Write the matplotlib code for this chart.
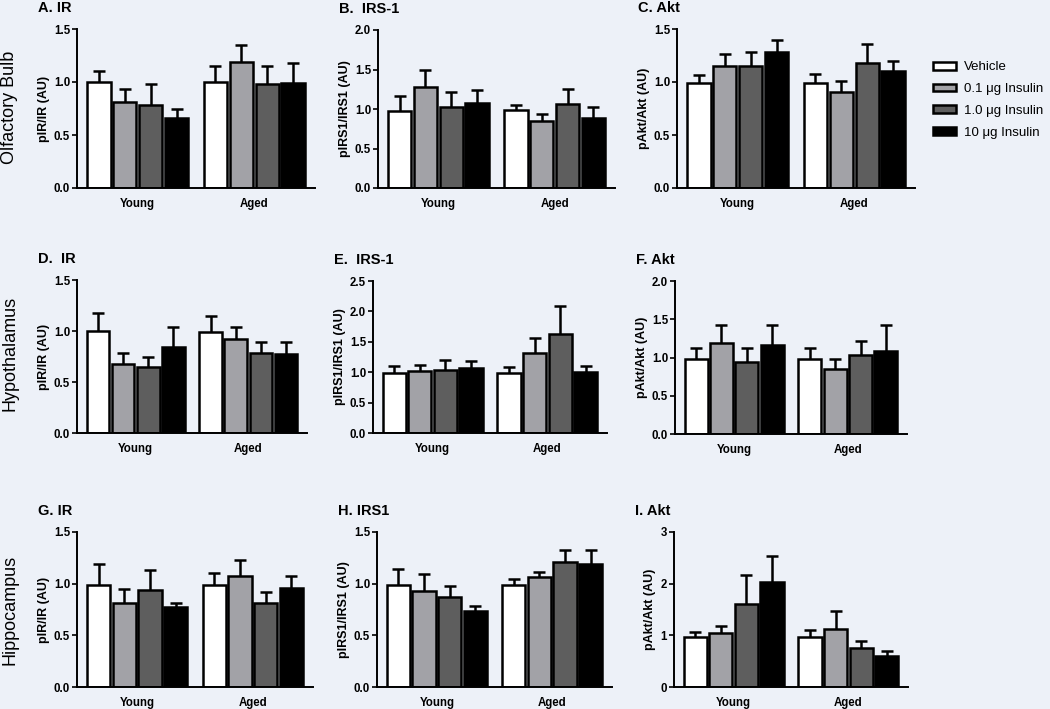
import matplotlib.pyplot as plt
from matplotlib.patches import Patch

plt.rcParams['font.family'] = ['Liberation Sans', 'DejaVu Sans']

groups = ['Young', 'Aged']
treatments = ['Vehicle', '0.1 \u03bcg Insulin', '1.0 \u03bcg Insulin', '10 \u03bcg Insulin']
colors = ['#FFFFFF', '#A2A2A7', '#5E5E5E', '#000000']
regions = ['Olfactory Bulb', 'Hypothalamus', 'Hippocampus']

# means and SEM, [young x4, aged x4]
ob_ir_mean = [[1.00, 0.81, 0.78, 0.66], [1.00, 1.19, 0.98, 0.99]]
ob_ir_sem = [[0.10, 0.12, 0.20, 0.09], [0.15, 0.16, 0.17, 0.19]]
ob_irs_mean = [[0.98, 1.28, 1.03, 1.07], [0.99, 0.85, 1.06, 0.88]]
ob_irs_sem = [[0.18, 0.21, 0.18, 0.17], [0.06, 0.09, 0.19, 0.14]]
ob_akt_mean = [[0.99, 1.15, 1.15, 1.28], [0.99, 0.91, 1.18, 1.10]]
ob_akt_sem = [[0.08, 0.11, 0.13, 0.12], [0.09, 0.10, 0.18, 0.10]]

hy_ir_mean = [[1.00, 0.68, 0.65, 0.84], [0.99, 0.92, 0.78, 0.77]]
hy_ir_sem = [[0.18, 0.10, 0.10, 0.20], [0.16, 0.12, 0.11, 0.12]]
hy_irs_mean = [[0.98, 1.02, 1.03, 1.07], [0.98, 1.31, 1.63, 1.00]]
hy_irs_sem = [[0.13, 0.10, 0.17, 0.11], [0.11, 0.26, 0.46, 0.11]]
hy_akt_mean = [[0.98, 1.19, 0.94, 1.16], [0.98, 0.85, 1.03, 1.09]]
hy_akt_sem = [[0.15, 0.23, 0.18, 0.27], [0.15, 0.13, 0.19, 0.33]]

hc_ir_mean = [[0.99, 0.81, 0.94, 0.77], [0.99, 1.07, 0.81, 0.96]]
hc_ir_sem = [[0.20, 0.14, 0.19, 0.04], [0.11, 0.16, 0.11, 0.11]]
hc_irs_mean = [[0.99, 0.93, 0.87, 0.74], [0.99, 1.06, 1.21, 1.19]]
hc_irs_sem = [[0.15, 0.16, 0.11, 0.04], [0.06, 0.05, 0.12, 0.14]]
hc_akt_mean = [[0.97, 1.04, 1.60, 2.03], [0.97, 1.13, 0.76, 0.60]]
hc_akt_sem = [[0.09, 0.14, 0.56, 0.51], [0.14, 0.35, 0.14, 0.09]]

panels = [
    ('A. IR', 'pIR/IR (AU)', ob_ir_mean, ob_ir_sem, 1.5, [0, 0.5, 1.0, 1.5]),
    ('B.  IRS-1', 'pIRS1/IRS1 (AU)', ob_irs_mean, ob_irs_sem, 2.0, [0, 0.5, 1.0, 1.5, 2.0]),
    ('C. Akt', 'pAkt/Akt (AU)', ob_akt_mean, ob_akt_sem, 1.5, [0, 0.5, 1.0, 1.5]),
    ('D.  IR', 'pIR/IR (AU)', hy_ir_mean, hy_ir_sem, 1.5, [0, 0.5, 1.0, 1.5]),
    ('E.  IRS-1', 'pIRS1/IRS1 (AU)', hy_irs_mean, hy_irs_sem, 2.5, [0, 0.5, 1.0, 1.5, 2.0, 2.5]),
    ('F. Akt', 'pAkt/Akt (AU)', hy_akt_mean, hy_akt_sem, 2.0, [0, 0.5, 1.0, 1.5, 2.0]),
    ('G. IR', 'pIR/IR (AU)', hc_ir_mean, hc_ir_sem, 1.5, [0, 0.5, 1.0, 1.5]),
    ('H. IRS1', 'pIRS1/IRS1 (AU)', hc_irs_mean, hc_irs_sem, 1.5, [0, 0.5, 1.0, 1.5]),
    ('I. Akt', 'pAkt/Akt (AU)', hc_akt_mean, hc_akt_sem, 3, [0, 1, 2, 3]),
]

# axes boxes in pixels: left, top, right, bottom
boxes = [
    (77, 29, 315, 188), (378, 30, 615, 188), (677, 29, 915, 188),
    (77, 280, 307, 433), (373, 281, 607, 433), (675, 281, 907, 434),
    (77, 532, 313, 687), (377, 532, 612, 687), (674, 532, 908, 687),
]
W, H = 1050, 709
bg = '#EDF1F8'

fig = plt.figure(figsize=(W / 100, H / 100), dpi=100, facecolor=bg)

slot = 0.2225
offsets = [(i - 1.5) * slot for i in range(4)]

for (title, ylab, mean, sem, ymax, ticks), (l, t, r, b) in zip(panels, boxes):
    ax = fig.add_axes([l / W, 1 - b / H, (r - l) / W, (b - t) / H])
    ax.set_facecolor(bg)
    for k in range(4):
        xs = [g + offsets[k] for g in range(2)]
        ys = [mean[g][k] for g in range(2)]
        es = [sem[g][k] for g in range(2)]
        ax.errorbar(xs, ys, yerr=es, fmt='none', ecolor='black', elinewidth=1.8,
                    capsize=4.5, capthick=1.8, zorder=1)
        ax.bar(xs, ys, width=slot * 0.91, color=colors[k], edgecolor='black',
               linewidth=1.8, zorder=2)
    ax.set_xlim(-0.52, 1.52)
    ax.set_ylim(0, ymax)
    ax.set_yticks(ticks)
    if ymax == 3:
        ax.set_yticklabels([str(v) for v in ticks])
    else:
        ax.set_yticklabels(['%.1f' % v for v in ticks])
    ax.set_xticks([0, 1])
    ax.set_xticklabels(groups)
    ax.tick_params(axis='x', length=0, pad=7)
    ax.tick_params(axis='y', length=3.5, width=1.2, pad=1.5)
    for lab in ax.get_xticklabels() + ax.get_yticklabels():
        lab.set_fontsize(8.3)
        lab.set_fontweight('bold')
    ax.spines['top'].set_visible(False)
    ax.spines['right'].set_visible(False)
    ax.spines['left'].set_linewidth(1.4)
    ax.spines['bottom'].set_linewidth(1.4)
    ax.set_ylabel(ylab, fontsize=9, fontweight='bold', labelpad=3)
    fig.text((l - 39) / W, 1 - (t - 21) / H, title, fontsize=10.5, fontweight='bold',
             ha='left', va='center')

for name, yc in zip(regions, [107, 353, 610]):
    fig.text(10 / W, 1 - yc / H, name, fontsize=13, rotation=90, ha='center', va='center')

handles = [Patch(facecolor=c, edgecolor='black', linewidth=1.8) for c in colors]
fig.legend(handles, treatments, loc='upper left', bbox_to_anchor=(928 / W, 1 - 56 / H),
           frameon=False, fontsize=9.5, handlelength=1.7, handleheight=0.55,
           labelspacing=0.75, handletextpad=0.6, borderaxespad=0)

fig.savefig('out.png', dpi=100, facecolor=bg)
